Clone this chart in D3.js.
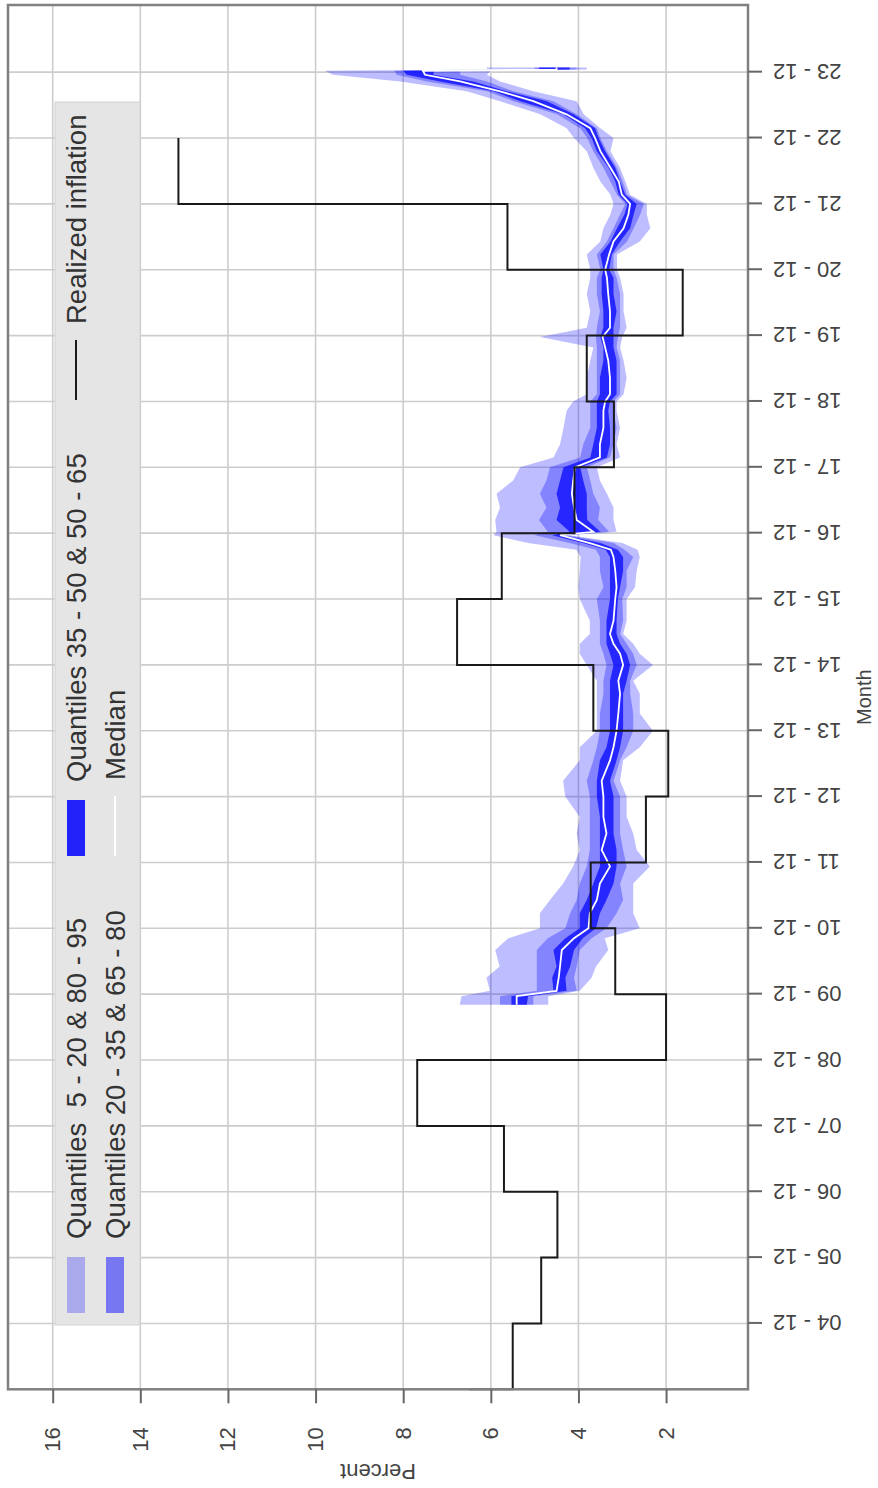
<!DOCTYPE html>
<html lang="en">
<head>
<meta charset="UTF-8">
<title>Inflation expectations vs realized inflation</title>
<script src="https://d3js.org/d3.v7.min.js"></script>
<style>
    body { margin: 0; background: #fff; }
    svg { display: block; font-family: 'Liberation Sans', Arial, Helvetica, sans-serif; }
</style>
</head>
<body>
<svg id="chart" width="878" height="1488"></svg>
<script>
// time is in years after Dec 2000, so 9 = Dec 2009
const monthTicks = d3.range(4, 24);
const monthLabels = monthTicks.map(m => String(m).padStart(2, "0") + " - 12");
const percentTicks = [2, 4, 6, 8, 10, 12, 14, 16];

// realized inflation, each value holds until the next December
const realizedTime  = [3, 3, 4, 5, 6, 7, 8, 9, 10, 11, 12, 13, 14, 15, 16, 17, 18, 19, 20, 21, 22];
const realizedValue = [6.5, 5.5, 4.85, 4.48, 5.7, 7.68, 2.0, 3.16, 3.72, 2.46, 1.95, 3.66, 6.77, 5.75, 4.09, 3.19, 3.81, 1.62, 5.62, 13.13, 13.13];

// survey quantiles
const fcTime = [8.84, 8.97, 9.05, 9.25, 9.42, 9.67, 9.85, 10.0, 10.23, 10.43, 10.68, 10.94, 11.19, 11.44, 11.69,
    12.0, 12.24, 12.55, 12.75, 13.0, 13.26, 13.56, 13.76, 14.0, 14.17, 14.32, 14.47, 14.67, 15.0, 15.18, 15.43,
    15.64, 15.75, 15.85, 15.97, 16.02, 16.2, 16.39, 16.6, 16.8, 17.0, 17.15, 17.35, 17.6, 17.86, 18.0, 18.11,
    18.36, 18.62, 18.82, 18.98, 19.12, 19.37, 19.63, 19.88, 20.0, 20.23, 20.43, 20.63, 20.84, 21.0, 21.14, 21.34,
    21.55, 21.8, 22.0, 22.15, 22.36, 22.56, 22.71, 22.86, 22.96, 23.02, 23.04, 23.07];
const q05 = [4.69, 4.69, 3.97, 3.70, 3.60, 3.32, 3.40, 2.60, 2.75, 2.75, 2.75, 2.37, 2.67, 2.75, 2.90,
    2.90, 3.05, 2.98, 2.60, 2.30, 2.60, 2.60, 2.75, 2.30, 2.60, 2.75, 2.98, 2.90, 2.90, 2.71, 2.67,
    2.60, 2.65, 3.00, 4.20, 3.13, 3.20, 3.20, 3.35, 3.51, 3.58, 3.05, 3.13, 3.05, 3.13, 3.13, 2.97,
    2.90, 2.97, 3.05, 3.00, 2.90, 2.97, 2.97, 3.05, 3.12, 3.12, 2.60, 2.36, 2.44, 2.44, 2.82, 2.93,
    3.05, 3.27, 3.20, 3.50, 3.88, 4.04, 5.03, 5.79, 6.09, 6.00, 3.81, 3.81];
const q20 = [5.03, 5.03, 4.04, 4.10, 4.04, 3.97, 3.70, 3.36, 3.13, 2.98, 3.05, 2.90, 2.98, 3.05, 3.05,
    3.05, 3.20, 3.05, 2.90, 2.75, 2.75, 2.82, 2.82, 2.67, 2.75, 2.90, 3.05, 2.98, 3.00, 2.90, 2.90,
    2.75, 2.95, 3.20, 4.28, 3.30, 3.55, 3.51, 3.66, 3.73, 3.81, 3.28, 3.20, 3.13, 3.20, 3.20, 3.05,
    3.05, 3.05, 3.13, 3.10, 3.05, 3.05, 3.05, 3.13, 3.20, 3.20, 2.89, 2.74, 2.59, 2.51, 2.89, 2.99,
    3.12, 3.35, 3.50, 3.58, 4.04, 4.57, 5.48, 6.09, 6.70, 6.70, 4.04, 4.04];
const q35 = [5.18, 5.15, 4.27, 4.30, 4.19, 4.10, 3.90, 3.60, 3.51, 3.36, 3.20, 3.13, 3.13, 3.20, 3.20,
    3.20, 3.28, 3.13, 3.05, 2.98, 2.98, 2.98, 2.90, 2.82, 2.90, 3.05, 3.13, 3.13, 3.10, 3.05, 2.98,
    2.98, 3.10, 3.50, 4.35, 3.50, 3.80, 3.81, 3.81, 3.89, 3.96, 3.35, 3.28, 3.28, 3.32, 3.28, 3.13,
    3.13, 3.13, 3.20, 3.20, 3.20, 3.13, 3.20, 3.20, 3.30, 3.24, 3.05, 2.82, 2.74, 2.67, 2.93, 3.05,
    3.16, 3.39, 3.54, 3.62, 4.11, 4.72, 5.64, 6.40, 7.31, 7.30, 4.20, 4.20];
const q50 = [5.41, 5.41, 4.50, 4.45, 4.42, 4.38, 4.10, 3.77, 3.74, 3.58, 3.51, 3.28, 3.47, 3.36, 3.43,
    3.43, 3.47, 3.28, 3.20, 3.13, 3.09, 3.05, 3.09, 2.98, 3.05, 3.20, 3.28, 3.20, 3.16, 3.13, 3.16,
    3.20, 3.26, 3.74, 4.42, 3.66, 4.04, 4.10, 4.15, 4.12, 4.08, 3.51, 3.51, 3.43, 3.43, 3.39, 3.28,
    3.28, 3.32, 3.39, 3.45, 3.28, 3.28, 3.32, 3.35, 3.39, 3.30, 3.20, 2.97, 2.86, 2.82, 3.01, 3.08,
    3.27, 3.50, 3.62, 3.73, 4.27, 5.03, 5.79, 6.70, 7.50, 7.55, 4.50, 4.50];
const q65 = [5.53, 5.53, 4.57, 4.60, 4.50, 4.57, 4.30, 3.97, 3.97, 3.81, 3.66, 3.51, 3.51, 3.51, 3.51,
    3.58, 3.58, 3.51, 3.36, 3.28, 3.28, 3.28, 3.28, 3.20, 3.28, 3.36, 3.36, 3.36, 3.28, 3.28, 3.28,
    3.28, 3.38, 3.90, 4.60, 4.20, 4.50, 4.42, 4.50, 4.42, 4.34, 3.73, 3.66, 3.58, 3.58, 3.58, 3.51,
    3.51, 3.43, 3.43, 3.50, 3.43, 3.43, 3.47, 3.47, 3.43, 3.50, 3.27, 3.12, 2.95, 2.88, 3.08, 3.16,
    3.31, 3.58, 3.70, 3.85, 4.34, 5.33, 5.94, 7.16, 7.92, 8.00, 4.90, 4.90];
const q80 = [5.79, 5.79, 4.95, 4.95, 4.95, 4.95, 4.70, 4.30, 4.19, 4.04, 3.97, 3.81, 3.74, 3.74, 3.74,
    3.74, 3.81, 3.66, 3.58, 3.51, 3.51, 3.43, 3.43, 3.36, 3.43, 3.51, 3.51, 3.51, 3.58, 3.43, 3.51,
    3.51, 3.60, 4.20, 5.00, 4.70, 4.90, 4.73, 4.88, 4.73, 4.65, 3.96, 3.89, 3.73, 3.73, 3.73, 3.58,
    3.58, 3.58, 3.58, 3.60, 3.58, 3.51, 3.58, 3.58, 3.50, 3.58, 3.35, 3.20, 3.05, 2.93, 3.12, 3.27,
    3.43, 3.66, 3.80, 3.96, 4.49, 5.48, 6.09, 7.46, 8.15, 8.20, 5.00, 5.00];
const q95 = [6.71, 6.67, 6.02, 6.10, 5.80, 5.90, 5.60, 4.88, 4.88, 4.65, 4.35, 4.12, 3.97, 4.04, 3.97,
    4.30, 4.35, 3.97, 3.97, 3.58, 3.58, 3.58, 3.58, 3.81, 3.97, 3.97, 3.74, 3.74, 3.97, 4.00, 3.97,
    3.95, 4.05, 5.15, 5.94, 5.87, 5.90, 5.79, 5.87, 5.49, 5.33, 4.57, 4.42, 4.34, 4.27, 4.12, 3.81,
    3.81, 3.73, 3.66, 4.88, 3.81, 3.73, 3.81, 3.73, 3.73, 3.81, 3.50, 3.43, 3.27, 3.20, 3.27, 3.50,
    3.66, 3.81, 4.10, 4.27, 4.87, 5.79, 6.55, 8.07, 9.60, 9.79, 6.09, 6.09];

// the chart is laid out normally (time across) and then turned a quarter turn
const W = 1488, H = 878;
const margin = { top: 8, right: 5, bottom: 130, left: 98.7 };

const svg = d3.select("#chart");
const g = svg.append("g").attr("transform", `translate(0,${W}) rotate(-90)`);

const x = d3.scaleLinear().domain([3.0, 24.02]).range([margin.left, W - margin.right]);
const y = d3.scaleLinear().domain([0.13, 17.02]).range([H - margin.bottom, margin.top]);

// grid
g.append("g").selectAll("line").data(monthTicks).join("line")
    .attr("x1", d => x(d)).attr("x2", d => x(d))
    .attr("y1", y.range()[1]).attr("y2", y.range()[0])
    .attr("stroke", "#cdcdcd").attr("stroke-width", 1.6);
g.append("g").selectAll("line").data(percentTicks).join("line")
    .attr("x1", x.range()[0]).attr("x2", x.range()[1])
    .attr("y1", d => y(d)).attr("y2", d => y(d))
    .attr("stroke", "#cdcdcd").attr("stroke-width", 1.6);

const rows = fcTime.map((t, i) => ({
    t, q05: q05[i], q20: q20[i], q35: q35[i], q50: q50[i], q65: q65[i], q80: q80[i], q95: q95[i]
}));

const band = (lo, hi) => d3.area()
    .x(d => x(d.t)).y0(d => y(d[lo])).y1(d => y(d[hi]));

const bands = [
    { lo: "q05", hi: "q95", color: "rgba(0,0,255,0.26)" },
    { lo: "q20", hi: "q80", color: "rgba(0,0,255,0.30)" },
    { lo: "q35", hi: "q65", color: "rgba(0,0,255,0.71)" }
];
bands.forEach(b => {
    g.append("path").datum(rows)
        .attr("fill", b.color)
        .attr("d", band(b.lo, b.hi));
});

g.append("path").datum(rows)
    .attr("fill", "none")
    .attr("stroke", "#fff")
    .attr("stroke-width", 1.8)
    .attr("d", d3.line().x(d => x(d.t)).y(d => y(d.q50)));

// realized inflation
const realized = realizedTime.map((t, i) => ({ t, v: realizedValue[i] }));
g.append("path").datum(realized)
    .attr("fill", "none")
    .attr("stroke", "#1a1a1a")
    .attr("stroke-width", 2)
    .attr("d", d3.line().curve(d3.curveStepAfter).x(d => x(d.t)).y(d => y(d.v)));

// frame
g.append("rect")
    .attr("x", x.range()[0]).attr("y", y.range()[1])
    .attr("width", x.range()[1] - x.range()[0])
    .attr("height", y.range()[0] - y.range()[1])
    .attr("fill", "none")
    .attr("stroke", "#808080")
    .attr("stroke-width", 2.5);

// axes
const xAxis = g.append("g")
    .attr("transform", `translate(0,${y.range()[0]})`)
    .call(d3.axisBottom(x).tickValues(monthTicks).tickFormat((d, i) => monthLabels[i]).tickSize(14));
xAxis.select(".domain").remove();
xAxis.selectAll(".tick line").attr("stroke", "#666").attr("stroke-width", 2);
xAxis.selectAll(".tick text")
    .attr("transform", "rotate(-90)")
    .attr("text-anchor", "end")
    .attr("x", -25).attr("y", 0).attr("dy", "0.35em")
    .attr("fill", "#444")
    .style("font-size", "22px");

const yAxis = g.append("g")
    .attr("transform", `translate(${x.range()[0]},0)`)
    .call(d3.axisLeft(y).tickValues(percentTicks).tickSize(14).tickPadding(24));
yAxis.select(".domain").remove();
yAxis.selectAll(".tick line").attr("stroke", "#666").attr("stroke-width", 2);
yAxis.selectAll(".tick text")
    .attr("fill", "#444")
    .style("font-size", "22px");

g.append("text")
    .attr("transform", `translate(16,${(y.range()[0] + y.range()[1]) / 2}) rotate(-90)`)
    .attr("text-anchor", "middle")
    .attr("dy", "0.35em")
    .attr("fill", "#444")
    .style("font-size", "22px")
    .text("Percent");

g.append("text")
    .attr("x", (x.range()[0] + x.range()[1]) / 2)
    .attr("y", 864)
    .attr("text-anchor", "middle")
    .attr("dy", "0.35em")
    .attr("fill", "#444")
    .style("font-size", "20px")
    .text("Month");

// legend
const legend = g.append("g");
legend.append("rect")
    .attr("x", 163).attr("y", 55).attr("width", 1223).attr("height", 85)
    .attr("fill", "#e5e5e5").attr("stroke", "#d2d2d2").attr("stroke-width", 1);

const legendItems = [
    { kind: "fill", color: "rgba(0,0,255,0.26)", label: "Quantiles  5 - 20 & 80 - 95", x: 175, row: 0 },
    { kind: "fill", color: "rgba(0,0,255,0.48)", label: "Quantiles 20 - 35 & 65 - 80", x: 175, row: 1 },
    { kind: "fill", color: "rgba(0,0,255,0.85)", label: "Quantiles 35 - 50 & 50 - 65", x: 632, row: 0 },
    { kind: "line", color: "#fff", label: "Median", x: 632, row: 1 },
    { kind: "line", color: "#1a1a1a", label: "Realized inflation", x: 1088, row: 0 }
];
const rowY = [76, 115];
legendItems.forEach(it => {
    const cy = rowY[it.row];
    if (it.kind === "fill") {
        legend.append("rect")
            .attr("x", it.x).attr("y", cy - 9).attr("width", 56).attr("height", 18)
            .attr("fill", it.color);
    } else {
        legend.append("line")
            .attr("x1", it.x).attr("x2", it.x + 60)
            .attr("y1", cy).attr("y2", cy)
            .attr("stroke", it.color).attr("stroke-width", 2);
    }
    legend.append("text")
        .attr("x", it.x + (it.kind === "fill" ? 74 : 76))
        .attr("y", cy)
        .attr("dy", "0.35em")
        .attr("fill", "#333")
        .style("font-size", "27.5px")
        .style("white-space", "pre")
        .text(it.label);
});
</script>
</body>
</html>
